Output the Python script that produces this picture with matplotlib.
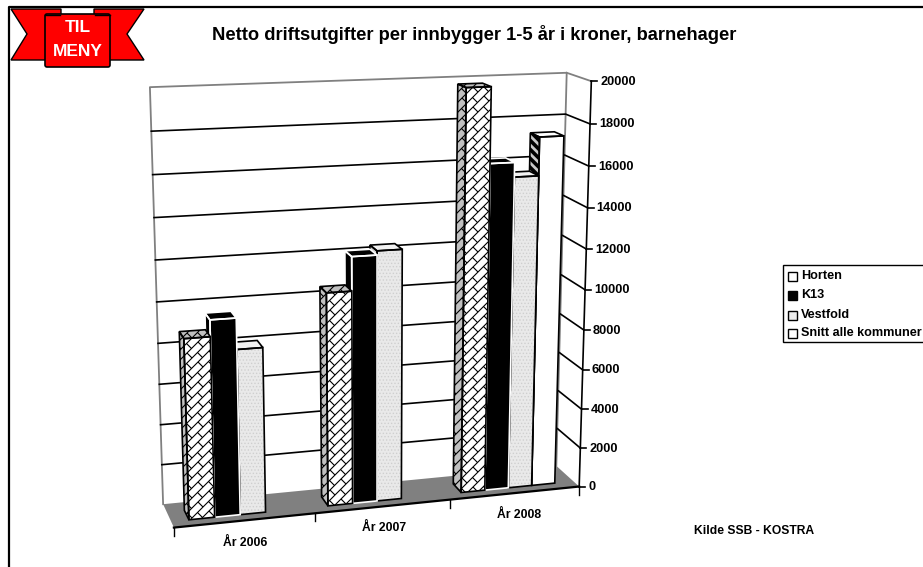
import numpy as np
import matplotlib
matplotlib.use('Agg')
import matplotlib.pyplot as plt
from matplotlib.patches import Polygon, Rectangle, FancyBboxPatch
from matplotlib.collections import LineCollection

plt.rcParams['font.family'] = ['Liberation Sans', 'DejaVu Sans']
plt.rcParams['hatch.linewidth'] = 0.6

# chart data
years = ['År 2006', 'År 2007', 'År 2008']
series_names = ['Horten', 'K13', 'Vestfold', 'Snitt alle kommuner']
horten = [8800, 10500, 19800]
k13 = [9600, 12150, 16200]
vestfold = [8100, 12350, 15500]
snitt = [None, None, 17350]
y_ticks = [0, 2000, 4000, 6000, 8000, 10000, 12000, 14000, 16000, 18000, 20000]
y_max = 20000

title = 'Netto driftsutgifter per innbygger 1-5 år i kroner, barnehager'
source = 'Kilde SSB - KOSTRA'

fig = plt.figure(figsize=(9.23, 5.67), dpi=100)
ax = fig.add_axes([0, 0, 1, 1])
ax.set_xlim(0, 923)
ax.set_ylim(567, 0)
ax.axis('off')

# camera: fit a perspective matrix from the box corners seen in the picture
# (category pos, value fraction, depth 0=front 1=back) -> pixel
box_ref = [
    (0, 0, 0, 174, 527), (1, 0, 0, 315, 513), (2, 0, 0, 449, 500), (3, 0, 0, 579, 487),
    (0, 0, 1, 163, 505), (3, 0, 1, 557, 465), (0, 1, 1, 150, 87), (3, 1, 1, 566, 73),
    (3, 1, 0, 592, 81), (3, 0.5, 0, 585, 290),
]
rows = []
rhs = []
for cx, cv, cd, px, py in box_ref:
    rows.append([cx, cv, cd, 1, 0, 0, 0, 0, -px * cx, -px * cv, -px * cd])
    rhs.append(px)
    rows.append([0, 0, 0, 0, cx, cv, cd, 1, -py * cx, -py * cv, -py * cd])
    rhs.append(py)
cam = np.linalg.lstsq(np.array(rows, float), np.array(rhs, float), rcond=None)[0]
cam = np.append(cam, 1).reshape(3, 4)


def proj(cat, val, depth):
    p = cam @ np.array([cat, val / y_max, depth, 1.0])
    return p[0] / p[2], p[1] / p[2]


def brick(patch, color='black', lw=0.8):
    # diagonal brick pattern clipped to a patch
    x0, y0, x1, y1 = patch.get_path().get_extents().extents
    segs = []
    step = 10
    period = 11
    for k in range(int((x0 + y0) // step) - 1, int((x1 + y1) // step) + 2):
        c = k * step
        segs.append([(x0 - 5, c - x0 + 5), (x1 + 5, c - x1 - 5)])
        for n in range(int(x0 // period) - 3, int(x1 // period) + 4):
            xs = n * period + (k % 2) * (step / 2 + period / 2)
            segs.append([(xs, c - xs), (xs + step / 2, c - xs + step / 2)])
    lc = LineCollection(segs, colors=color, linewidths=lw, zorder=patch.get_zorder())
    ax.add_collection(lc)
    lc.set_clip_path(patch)


def stripes(patch, color='black', lw=2.6):
    x0, y0, x1, y1 = patch.get_path().get_extents().extents
    segs = []
    for c in np.arange(y0 - x1 - 10, y1 - x0 + 10, 9):
        segs.append([(x0 - 5, x0 - 5 + c), (x1 + 5, x1 + 5 + c)])
    lc = LineCollection(segs, colors=color, linewidths=lw, zorder=patch.get_zorder())
    ax.add_collection(lc)
    lc.set_clip_path(patch)


wall_col = '#808080'

# floor
floor = [proj(0, 0, 0), proj(3, 0, 0), proj(3, 0, 1), proj(0, 0, 1)]
ax.add_patch(Polygon(floor, closed=True, fc=wall_col, ec='none', zorder=1))

# walls
ax.plot(*zip(proj(0, 0, 1), proj(0, y_max, 1), proj(3, y_max, 1), proj(3, 0, 1)),
        color=wall_col, lw=1.3, zorder=2)
ax.plot(*zip(proj(3, y_max, 1), proj(3, y_max, 0)), color=wall_col, lw=1.3, zorder=2)

# gridlines on back wall and side wall
for v in y_ticks[1:-1]:
    ax.plot(*zip(proj(0, v, 1), proj(3, v, 1), proj(3, v, 0)), color='black', lw=1.2, zorder=2)

# value axis
ax.plot(*zip(proj(3, 0, 0), proj(3, y_max, 0)), color='black', lw=1.2, zorder=2)
for v in y_ticks:
    px, py = proj(3, v, 0)
    ax.plot([px, px + 6], [py, py], color='black', lw=1.2, zorder=2)
    ax.text(px + 9, py + 0.5, str(v), ha='left', va='center', fontsize=9.2, fontweight='bold')

# category axis
ax.plot(*zip(proj(0, 0, 0), proj(3, 0, 0)), color='black', lw=1.6, zorder=2)
for c in range(4):
    px, py = proj(c, 0, 0)
    ax.plot([px, px], [py, py + 8], color='black', lw=1, zorder=2)
label_pos = [(245, 543), (384, 528), (519, 515)]
for name, (lx, ly) in zip(years, label_pos):
    ax.text(lx, ly, name, ha='center', va='center', fontsize=8.8, fontweight='bold')

# bars
bar_w = 0.182
margin = 0.125
d_front = 0.25
d_back = 0.65
series_vals = [horten, k13, vestfold, snitt]


def draw_bar(cat, s, val, z):
    left = cat + margin + s * bar_w
    right = left + bar_w
    front = [proj(left, 0, d_front), proj(right, 0, d_front),
             proj(right, val, d_front), proj(left, val, d_front)]
    side = [proj(left, 0, d_front), proj(left, val, d_front),
            proj(left, val, d_back), proj(left, 0, d_back)]
    top = [proj(left, val, d_front), proj(right, val, d_front),
           proj(right, val, d_back), proj(left, val, d_back)]
    if s == 0:
        sty = {'front': '#ffffff', 'side': '#c0c0c0', 'top': '#c0c0c0', 'ec': 'black'}
    elif s == 1:
        sty = {'front': '#000000', 'side': '#000000', 'top': '#000000', 'ec': 'white'}
    elif s == 2:
        sty = {'front': '#e9e9e9', 'side': '#d0d0d0', 'top': '#f2f2f2', 'ec': 'black'}
    else:
        sty = {'front': '#ffffff', 'side': '#c8c8c8', 'top': '#ffffff', 'ec': 'black'}
    for pts, face in ((side, sty['side']), (top, sty['top']), (front, sty['front'])):
        pp = Polygon(pts, closed=True, fc=face, ec='none', zorder=z)
        ax.add_patch(pp)
        if s == 0:
            brick(pp)
        if s == 2 and face == sty['front']:
            pp.set_hatch('.....')
            pp.set_edgecolor('#cfcfcf')
            pp.set_linewidth(0)
        if s == 3 and face == sty['side']:
            stripes(pp)
        ax.add_patch(Polygon(pts, closed=True, fill=False, ec=sty['ec'], lw=1.2, zorder=z + 0.1))


z = 3
for cat in range(len(years)):
    # right to left so the left bar hides the side of the next one
    for s in range(len(series_vals) - 1, -1, -1):
        val = series_vals[s][cat]
        if val is None:
            continue
        draw_bar(cat, s, val, z)
        z += 1

# title and source
ax.text(474.5, 34, title, ha='center', va='center', fontsize=13.2, fontweight='bold', zorder=30)
ax.text(754, 531, source, ha='center', va='center', fontsize=8.7, fontweight='bold')

# legend, runs off the right side of the picture
ax.add_patch(Rectangle((783, 265), 150, 77, fc='white', ec='black', lw=1, zorder=20))
leg_y = [276, 295, 315, 333]
for i, (name, ly) in enumerate(zip(series_names, leg_y)):
    ax.text(801, ly, name, ha='left', va='center', fontsize=9.1, fontweight='bold', zorder=21)
    fc = ['white', 'black', '#ebebeb', 'white'][i]
    sw = Rectangle((788, ly - 4.5), 9, 9, fc=fc, ec='black', lw=1, zorder=21)
    ax.add_patch(sw)
    if i == 0:
        brick(sw, lw=0.6)
    if i == 3:
        stripes(sw, lw=2)

# frame around the sheet
ax.plot([9, 9, 923], [567, 7, 7], color='black', lw=1.6, zorder=5)

# TIL MENY button
for pts in ([(11, 9), (61, 9), (61, 60), (11, 60), (27, 34)],
            [(144, 9), (94, 9), (94, 60), (144, 60), (127, 34)]):
    ax.add_patch(Polygon(pts, closed=True, fc='#ff0000', ec='black', lw=1, zorder=25))
ax.add_patch(FancyBboxPatch((45, 14), 65, 53, boxstyle='round,pad=0,rounding_size=2',
                            fc='#ff0000', ec='black', lw=1.2, zorder=26))
ax.plot([45, 60], [15, 15], color='black', lw=1, zorder=27)
ax.plot([95, 110], [15, 15], color='black', lw=1, zorder=27)
ax.text(77.5, 27, 'TIL', ha='center', va='center', color='white', fontsize=12.5,
        fontweight='bold', zorder=28)
ax.text(77.5, 51, 'MENY', ha='center', va='center', color='white', fontsize=12.5,
        fontweight='bold', zorder=28)

plt.savefig('out.png', dpi=100)
